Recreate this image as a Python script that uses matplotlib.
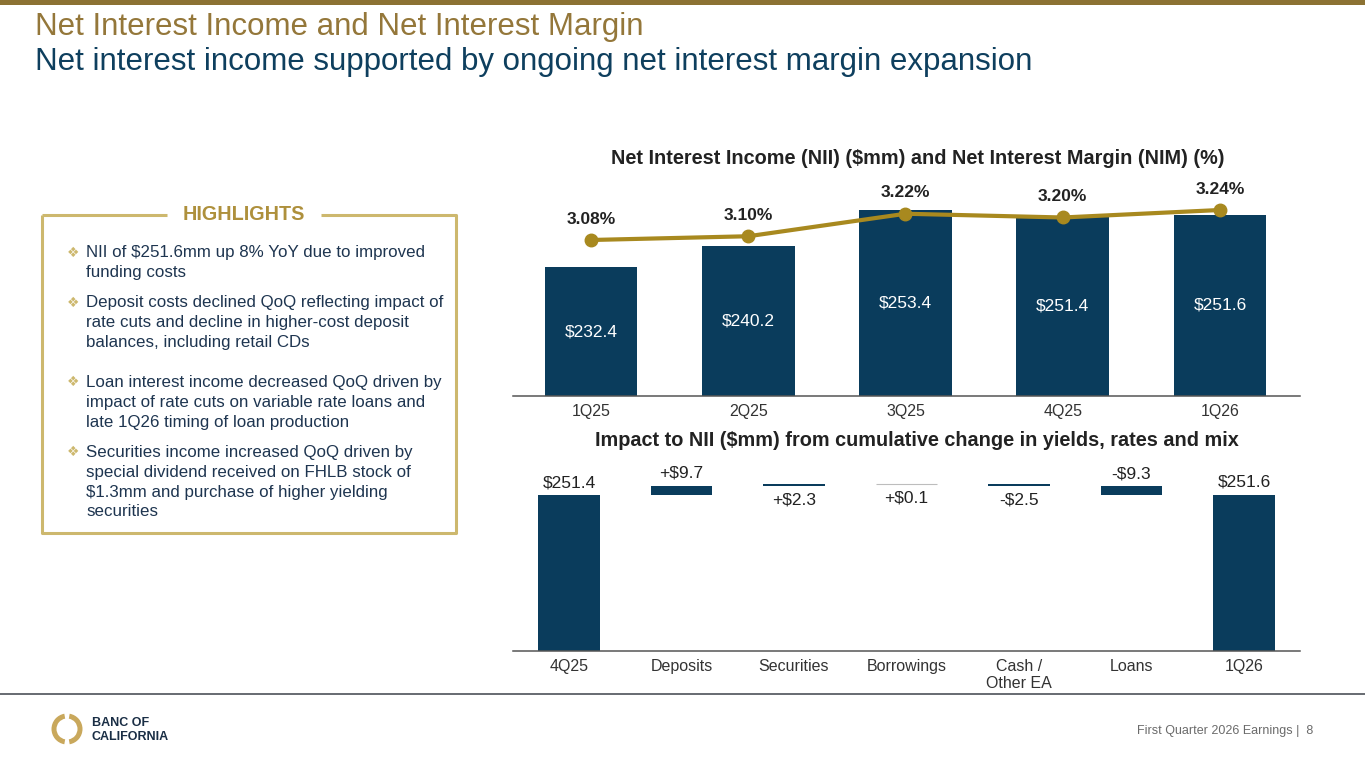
import matplotlib
matplotlib.use('Agg')
import matplotlib.pyplot as plt
from matplotlib.patches import Wedge
import numpy as np

# data
quarters = ['1Q25', '2Q25', '3Q25', '4Q25', '1Q26']
nii = [232.4, 240.2, 253.4, 251.4, 251.6]
nim = [3.08, 3.10, 3.22, 3.20, 3.24]

wf_labels = ['4Q25', 'Deposits', 'Securities', 'Borrowings', 'Cash /\nOther EA', 'Loans', '1Q26']
wf_start = 251.4
wf_deltas = [9.7, 2.3, 0.1, -2.5, -9.3]
wf_end = 251.6
wf_text = ['$251.4', '+$9.7', '+$2.3', '+$0.1', '-$2.5', '-$9.3', '$251.6']
wf_side = ['above', 'above', 'below', 'below', 'below', 'above', 'above']

highlights = [
    ['NII of $251.6mm up 8% YoY due to improved', 'funding costs'],
    ['Deposit costs declined QoQ reflecting impact of', 'rate cuts and decline in higher-cost deposit',
     'balances, including retail CDs'],
    ['Loan interest income decreased QoQ driven by', 'impact of rate cuts on variable rate loans and',
     'late 1Q26 timing of loan production'],
    ['Securities income increased QoQ driven by', 'special dividend received on FHLB stock of',
     '$1.3mm and purchase of higher yielding', 'securities'],
]
hl_first_line = [253, 303, 382, 452]

NAVY = '#0A3C5C'
GOLD = '#A8891F'
TITLE_GOLD = '#94773A'
BOX_GOLD = '#CDB86E'
TXT = '#1E3550'

plt.rcParams['font.family'] = ['Liberation Sans', 'DejaVu Sans']

W, H = 1365, 768
fig = plt.figure(figsize=(W / 100, H / 100), dpi=100)


def rect(x0, y0, x1, y1):
    return [x0 / W, 1 - y1 / H, (x1 - x0) / W, (y1 - y0) / H]


# overlay in pixel coordinates
bg = fig.add_axes([0, 0, 1, 1])
bg.set_xlim(0, W)
bg.set_ylim(H, 0)
bg.axis('off')
bg.set_facecolor('none')

bg.add_patch(plt.Rectangle((0, 0), W, 5, color='#8C7233', lw=0))
bg.text(35, 27, 'Net Interest Income and Net Interest Margin', fontsize=22.5, color=TITLE_GOLD, va='center')
bg.text(35, 62, 'Net interest income supported by ongoing net interest margin expansion', fontsize=22.5,
        color='#0E3F5E', va='center')

# highlights box
lw = 2.2
bg.plot([42, 42, 456, 456, 321], [215, 533, 533, 215, 215], color=BOX_GOLD, lw=lw, solid_capstyle='butt')
bg.plot([42, 167], [215, 215], color=BOX_GOLD, lw=lw, solid_capstyle='butt')
bg.text(244, 215, 'HIGHLIGHTS', fontsize=14.2, fontweight='bold', color='#AE903C', ha='center', va='center')
for lines, y0 in zip(highlights, hl_first_line):
    bg.text(73, y0, '\u2756', fontsize=10, color=BOX_GOLD, ha='center', va='center', family='DejaVu Sans')
    for i, ln in enumerate(lines):
        bg.text(86, y0 + i * 20, ln, fontsize=12.2, color=TXT, va='center')

# footer
bg.plot([0, W], [694, 694], color='#5A5F66', lw=1.3)
bg.add_patch(Wedge((67, 729), 15.5, 100, 260, width=5, color='#C9A85C', lw=0))
bg.add_patch(Wedge((67, 729), 15.5, -80, 80, width=5, color='#C9A85C', lw=0))
bg.text(92, 723, 'BANC OF', fontsize=9, fontweight='bold', color='#1A2E45', va='center')
bg.text(92, 737, 'CALIFORNIA', fontsize=9, fontweight='bold', color='#1A2E45', va='center')
bg.text(1313, 731, 'First Quarter 2026 Earnings |  8', fontsize=9, color='#6B6B6B', ha='right', va='center')

# top chart
ax = fig.add_axes(rect(513, 170, 1300, 395.7))
ax.set_facecolor('none')
x = np.arange(len(quarters))
ax.bar(x, nii, width=0.59, color=NAVY, zorder=2)
ax.set_xlim(-0.496, 4.509)
ax.set_ylim(185.4, 185.4 + 225.7 / 2.73)
for xi, v in zip(x, nii):
    ax.text(xi, (185.4 + v) / 2, f'${v:.1f}', color='white', fontsize=12.5, ha='center', va='center', zorder=3)
ax.set_xticks(x, quarters)
ax.tick_params(axis='x', length=0, pad=6, labelsize=11.5, labelcolor='#333333')
ax.set_yticks([])
for s in ['top', 'left', 'right']:
    ax.spines[s].set_visible(False)
ax.spines['bottom'].set_color('#555555')
ax.spines['bottom'].set_linewidth(1.1)

ax2 = ax.twinx()
ax2.plot(x, nim, color=GOLD, lw=3, marker='o', ms=9, zorder=4)
ax2.set_ylim(2.2496, 3.4533)
for xi, v in zip(x, nim):
    ax2.annotate(f'{v:.2f}%', (xi, v), xytext=(0, 15), textcoords='offset points', ha='center', va='center',
                 fontsize=12.5, fontweight='bold', color='#222222')
ax2.axis('off')

fig.text(918 / W, 1 - 158 / H, 'Net Interest Income (NII) ($mm) and Net Interest Margin (NIM) (%)',
         fontsize=14.3, fontweight='bold', color='#222222', ha='center', va='center')

# waterfall
bx = fig.add_axes(rect(513, 455, 1300, 650.7))
bx.set_facecolor('none')
xw = np.arange(len(wf_labels))
bx.set_xlim(-0.498, 6.498)
ybot = 84
bx.set_ylim(ybot, ybot + 195.7 / 0.93)

tops, bots = [wf_start], [ybot]
cum = wf_start
bx.bar(0, wf_start, width=0.55, color=NAVY)
for i, d in enumerate(wf_deltas, start=1):
    b = min(cum, cum + d)
    col = NAVY if abs(d) >= 0.5 else '#BDBDBD'
    bx.bar(i, abs(d), bottom=b, width=0.55, color=NAVY, edgecolor=col, lw=0.8 if abs(d) < 0.5 else 0)
    tops.append(b + abs(d))
    bots.append(b)
    cum += d
bx.bar(len(xw) - 1, wf_end, width=0.55, color=NAVY)
tops.append(wf_end)
bots.append(ybot)

for i, (t, side) in enumerate(zip(wf_text, wf_side)):
    if side == 'above':
        bx.annotate(t, (i, tops[i]), xytext=(0, 9), textcoords='offset points', ha='center', va='center',
                    fontsize=12.5, color='#222222')
    else:
        bx.annotate(t, (i, bots[i]), xytext=(0, -10), textcoords='offset points', ha='center', va='center',
                    fontsize=12.5, color='#222222')

bx.set_xticks(xw, wf_labels)
bx.tick_params(axis='x', length=0, pad=6, labelsize=11.5, labelcolor='#333333')
bx.set_yticks([])
for s in ['top', 'left', 'right']:
    bx.spines[s].set_visible(False)
bx.spines['bottom'].set_color('#555555')
bx.spines['bottom'].set_linewidth(1.1)

fig.text(917 / W, 1 - 440 / H, 'Impact to NII ($mm) from cumulative change in yields, rates and mix',
         fontsize=14.3, fontweight='bold', color='#222222', ha='center', va='center')

fig.savefig('out.png', dpi=100)
